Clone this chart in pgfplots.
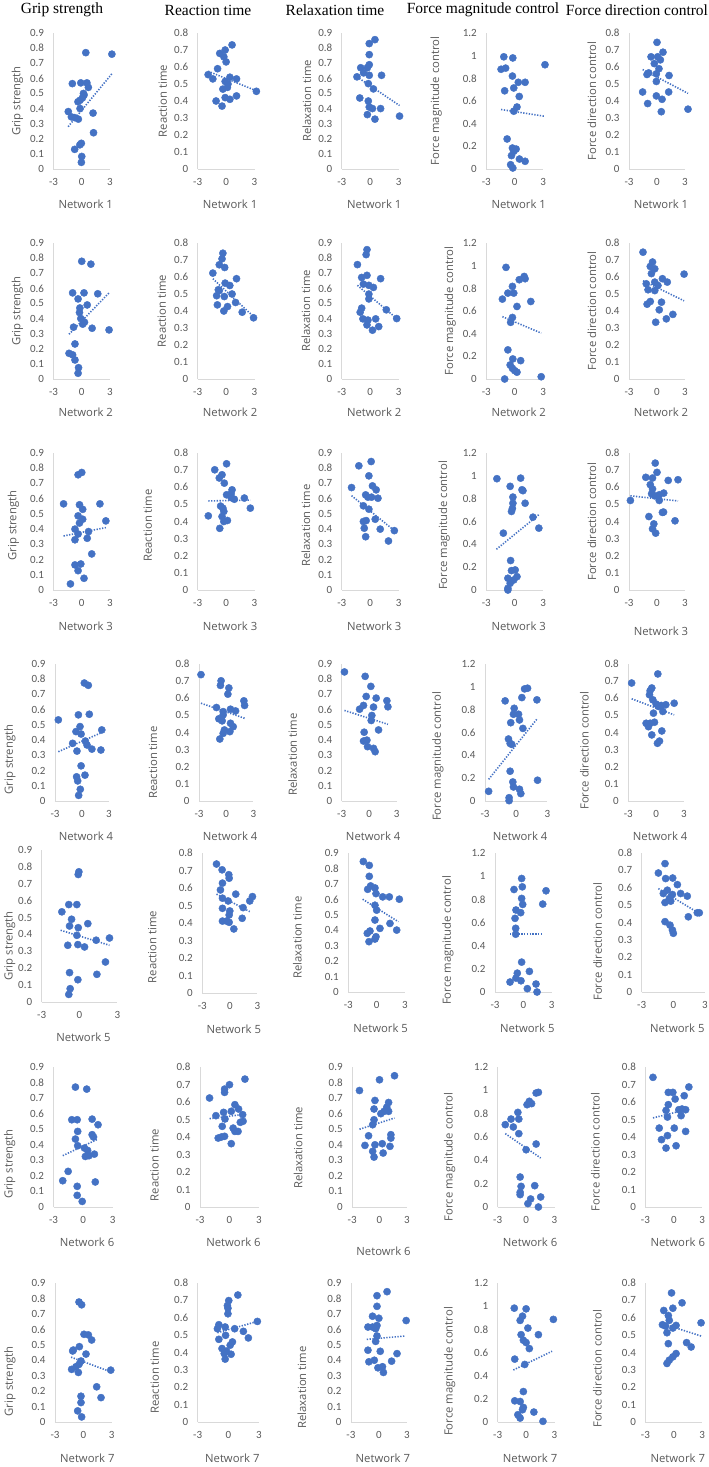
\documentclass[border=0pt]{standalone}
\usepackage{fontspec}
\setmainfont{Open Sans}
\newfontfamily\tickfont{Carlito}
\newfontfamily\titlefont{Liberation Serif}
\usepackage{pgfplots}
\pgfplotsset{compat=1.18}
\definecolor{dotblue}{HTML}{4472C4}
\definecolor{txtgray}{HTML}{595959}
\definecolor{axgray}{HTML}{D9D9D9}

\pgfplotsset{
  base/.style={
    scale only axis, anchor=south west, clip=false,
    xmin=-3, xmax=3, ymin=0, xtick={-3,0,3},
    axis x line*=bottom, axis y line*=left,
    axis line style={draw=axgray, line width=0.8pt, -},
    major tick length=0pt,
    /pgf/number format/assume math mode=true,
    tick label style={font=\tickfont\fontsize{11}{12}\selectfont, text=txtgray},
    yticklabel style={/pgf/number format/fixed, /pgf/number format/precision=1, xshift=-6pt},
    xticklabel style={yshift=-6pt},
    label style={font=\fontsize{11.3}{13}\selectfont, text=txtgray},
  },
  pnl/.style n args={4}{at={(#1pt,-#3pt)}, width=#2pt, height=#4pt},
  lab/.style n args={4}{
    ylabel style={at={([xshift=#1pt,yshift=#2pt]axis description cs:0,0.5)}, anchor=center},
    xlabel style={at={([xshift=#3pt,yshift=#4pt]axis description cs:0.5,0)}, anchor=center}},
  gs/.style={base, ymax=0.9, ytick={0,0.1,0.2,0.3,0.4,0.5,0.6,0.7,0.8,0.9}, ylabel={Grip strength}},
  rt/.style={base, ymax=0.8, ytick={0,0.1,0.2,0.3,0.4,0.5,0.6,0.7,0.8}, ylabel={Reaction time}},
  rx/.style={base, ymax=0.9, ytick={0,0.1,0.2,0.3,0.4,0.5,0.6,0.7,0.8,0.9}, ylabel={Relaxation time}},
  fm/.style={base, ymax=1.2, ytick={0,0.2,0.4,0.6,0.8,1,1.2}, ylabel={Force magnitude control}},
  fd/.style={base, ymax=0.8, ytick={0,0.1,0.2,0.3,0.4,0.5,0.6,0.7,0.8}, ylabel={Force direction control}},
  scat/.style={only marks, mark=*, mark size=3.6pt, color=dotblue, mark options={fill=dotblue, draw=none}},
  trend/.style={no marks, color=dotblue, line width=1.6pt, dash pattern=on 1.3pt off 1.5pt},
}

\begin{document}
\begin{tikzpicture}
\useasboundingbox (0,0) rectangle (709pt,-1467pt);

\begin{scope}[font=\titlefont\fontsize{15.5}{18}\selectfont]
\node at (62pt,-10pt) {Grip strength};
\node at (208pt,-10pt) {Reaction time};
\node at (335pt,-10pt) {Relaxation time};
\node at (483pt,-10pt) {Force magnitude control};
\node at (637pt,-10pt) {Force direction control};
\end{scope}

% ---------- Network 1 ----------
\begin{axis}[gs, pnl={53.5}{56.5}{169}{136}, lab={-36}{0}{4}{-35}, xlabel={Network 1}]
\addplot[scat] coordinates {(0.43,0.77) (3.2,0.76) (-1.0,0.565) (-0.1,0.57) (0.55,0.57) (0.7,0.54) (0.25,0.49) (0.18,0.50) (0.07,0.47) (-0.18,0.455) (-0.4,0.445) (-0.18,0.40) (-1.43,0.38) (-1.1,0.345) (-0.75,0.34) (-0.36,0.33) (1.2,0.37) (1.25,0.24) (-0.04,0.17) (-0.2,0.16) (-0.75,0.13) (0,0.083) (-0.04,0.044)};
\addplot[trend] coordinates {(-1.45,0.28) (3.2,0.63)};
\end{axis}
\begin{axis}[rt, pnl={197.7}{56.8}{169}{136}, lab={-35}{0}{4}{-35}, xlabel={Network 1}]
\addplot[scat] coordinates {(0.63,0.73) (-0.1,0.70) (-0.67,0.68) (-0.24,0.66) (0,0.63) (-0.9,0.59) (-1.9,0.555) (-1.4,0.53) (-0.1,0.515) (0.4,0.54) (-0.34,0.47) (0.14,0.48) (1.1,0.53) (3.2,0.457) (-1.06,0.40) (0.4,0.41) (-0.1,0.42) (1.1,0.43) (-0.43,0.37) (0.2,0.50)};
\addplot[trend] coordinates {(-1.9,0.575) (3.2,0.46)};
\end{axis}
\begin{axis}[rx, pnl={341.8}{56.8}{169}{136}, lab={-35}{0}{4}{-35}, xlabel={Network 1}]
\addplot[scat] coordinates {(0.5,0.856) (-0.1,0.83) (-0.1,0.757) (-0.1,0.69) (-0.3,0.67) (-1.0,0.67) (-0.7,0.636) (-1.4,0.61) (-0.1,0.62) (1.2,0.62) (-0.2,0.565) (0.34,0.53) (-1.1,0.47) (-0.2,0.45) (-0.1,0.41) (0.24,0.40) (1.1,0.40) (-0.3,0.36) (0.5,0.33) (3.1,0.35)};
\addplot[trend] coordinates {(-1.4,0.61) (3.1,0.42)};
\end{axis}
\begin{axis}[fm, pnl={486.3}{56.8}{169}{136}, lab={-50}{0}{4}{-35}, xlabel={Network 1}]
\addplot[scat] coordinates {(-1.15,0.99) (-0.2,0.98) (-1.44,0.88) (-0.96,0.89) (-0.24,0.82) (0.38,0.765) (1.1,0.765) (-0.1,0.715) (-1.06,0.69) (0.48,0.64) (0.24,0.547) (-0.1,0.51) (3.2,0.92) (-0.8,0.265) (-0.24,0.185) (0.15,0.176) (-0.1,0.156) (-0.34,0.118) (0.5,0.088) (1.1,0.068) (-0.43,0.038) (-0.2,0.009)};
\addplot[trend] coordinates {(-1.44,0.525) (3.2,0.465)};
\end{axis}
\begin{axis}[fd, pnl={629}{56}{169}{136}, lab={-37}{0}{4}{-35}, xlabel={Network 1}]
\addplot[scat] coordinates {(0,0.745) (-0.64,0.66) (0.07,0.66) (0.64,0.687) (0.36,0.642) (-0.29,0.62) (0.21,0.59) (-0.89,0.565) (-1.07,0.556) (-0.07,0.56) (1.29,0.55) (-0.07,0.515) (-1.54,0.453) (1.25,0.453) (-1.0,0.385) (-0.07,0.43) (0.54,0.41) (0.46,0.337) (3.32,0.352)};
\addplot[trend] coordinates {(-1.54,0.585) (3.32,0.445)};
\end{axis}

% ---------- Network 2 ----------
\begin{axis}[gs, pnl={53.5}{56.5}{379}{136}, lab={-36}{0}{4}{-33}, xlabel={Network 2}]
\addplot[scat] coordinates {(0,0.779) (0.97,0.76) (-0.97,0.57) (0.24,0.57) (1.7,0.564) (-0.39,0.53) (0.58,0.49) (-0.2,0.47) (-0.24,0.44) (-0.1,0.40) (0.29,0.376) (0.1,0.363) (-0.87,0.343) (1.1,0.336) (2.9,0.325) (-0.72,0.232) (-1.35,0.17) (-0.97,0.16) (-0.72,0.126) (-0.34,0.075) (-0.39,0.038)};
\addplot[trend] coordinates {(-1.35,0.296) (2.9,0.57)};
\end{axis}
\begin{axis}[rt, pnl={197.7}{56.8}{379}{136}, lab={-36}{0}{4}{-33}, xlabel={Network 2}]
\addplot[scat] coordinates {(-0.34,0.74) (-0.43,0.707) (-0.72,0.672) (-0.15,0.656) (-1.4,0.623) (1.1,0.59) (-0.1,0.564) (0.39,0.55) (-0.82,0.525) (-0.72,0.52) (0.63,0.50) (-0.19,0.485) (-1.0,0.49) (1.0,0.45) (-0.92,0.436) (0.15,0.426) (-0.24,0.40) (1.7,0.393) (2.9,0.36)};
\addplot[trend] coordinates {(-1.4,0.59) (2.9,0.367)};
\end{axis}
\begin{axis}[rx, pnl={341.8}{56.8}{379}{136}, lab={-36}{0}{4}{-33}, xlabel={Network 2}]
\addplot[scat] coordinates {(-0.34,0.856) (-0.43,0.823) (-1.35,0.757) (-0.34,0.686) (-0.9,0.672) (1.1,0.664) (-0.72,0.628) (-0.14,0.62) (0.34,0.606) (-0.14,0.562) (-0.14,0.53) (-0.9,0.469) (-1.06,0.442) (1.7,0.458) (-0.77,0.398) (0.58,0.398) (-0.24,0.39) (2.8,0.40) (-0.34,0.358) (0.9,0.347) (0.24,0.323)};
\addplot[trend] coordinates {(-1.35,0.62) (2.8,0.40)};
\end{axis}
\begin{axis}[fm, pnl={486.3}{56.8}{379}{136}, lab={-36}{0}{4}{-33}, xlabel={Network 2}]
\addplot[scat] coordinates {(-0.92,0.985) (0.48,0.876) (1.0,0.905) (1.1,0.885) (-0.24,0.817) (-0.72,0.758) (-0.1,0.758) (-1.3,0.705) (1.7,0.684) (0.24,0.64) (-0.24,0.543) (-0.43,0.50) (-0.72,0.257) (-0.2,0.177) (0.63,0.162) (-0.48,0.124) (-0.24,0.094) (0,0.074) (0.24,0.06) (-1.06,0.0) (2.8,0.02)};
\addplot[trend] coordinates {(-1.3,0.55) (2.8,0.405)};
\end{axis}
\begin{axis}[fd, pnl={629}{56}{379}{136}, lab={-37}{0}{4}{-33}, xlabel={Network 2}]
\addplot[scat] coordinates {(-1.5,0.746) (-0.48,0.688) (-0.72,0.662) (-0.24,0.648) (-0.6,0.62) (0.58,0.59) (1.1,0.57) (-1.15,0.56) (-0.24,0.57) (0.1,0.55) (-0.96,0.525) (-0.24,0.52) (2.9,0.617) (-0.72,0.456) (-1.06,0.44) (0.48,0.452) (0.24,0.407) (1.7,0.38) (1.0,0.354) (-0.14,0.334)};
\addplot[trend] coordinates {(-1.5,0.578) (2.9,0.46)};
\end{axis}

% ---------- Network 3 ----------
\begin{axis}[gs, pnl={53.5}{56.5}{590}{137}, lab={-40}{-4}{4}{-36}, xlabel={Network 3}]
\addplot[scat] coordinates {(0,0.772) (-0.39,0.757) (-1.93,0.566) (-0.24,0.56) (1.93,0.566) (0.1,0.53) (-0.39,0.487) (0.1,0.465) (-0.24,0.44) (2.56,0.454) (-0.72,0.40) (-0.39,0.368) (0.72,0.384) (0.58,0.34) (-0.72,0.33) (1.06,0.237) (-0.72,0.165) (-0.1,0.171) (-0.39,0.127) (0.24,0.077) (-1.2,0.04)};
\addplot[trend] coordinates {(-1.93,0.355) (2.56,0.41)};
\end{axis}
\begin{axis}[rt, pnl={197.7}{56.8}{590}{137}, lab={-50}{-4}{4}{-36}, xlabel={Network 3}]
\addplot[scat] coordinates {(0.05,0.737) (-1.2,0.702) (-0.43,0.673) (-0.72,0.654) (-0.19,0.624) (0.63,0.585) (0.53,0.562) (0.05,0.556) (0.87,0.53) (0.53,0.54) (1.93,0.537) (2.56,0.478) (-1.88,0.433) (-0.58,0.49) (-0.34,0.478) (-0.24,0.459) (-0.43,0.429) (0.14,0.406) (-0.24,0.40) (-0.67,0.36)};
\addplot[trend] coordinates {(-1.88,0.52) (2.56,0.525)};
\end{axis}
\begin{axis}[rx, pnl={341.8}{56.8}{590}{137}, lab={-36}{-4}{4}{-36}, xlabel={Network 3}]
\addplot[scat] coordinates {(0.1,0.844) (-1.2,0.816) (-0.14,0.75) (-1.97,0.673) (0.24,0.684) (0.63,0.658) (-0.48,0.625) (-0.24,0.61) (0.14,0.61) (0.82,0.603) (-0.72,0.553) (-0.14,0.531) (0.53,0.465) (-0.43,0.456) (-0.72,0.45) (-0.63,0.406) (1.06,0.40) (-0.48,0.35) (2.55,0.39) (1.93,0.322)};
\addplot[trend] coordinates {(-1.97,0.62) (2.55,0.39)};
\end{axis}
\begin{axis}[fm, pnl={486.3}{56.8}{590}{137}, lab={-42}{-4}{4}{-36}, xlabel={Network 3}]
\addplot[scat] coordinates {(-1.88,0.975) (0.63,0.98) (-0.48,0.908) (0.77,0.878) (0.87,0.87) (-0.19,0.814) (-0.19,0.76) (1.1,0.76) (-0.24,0.715) (-0.34,0.688) (1.93,0.638) (2.55,0.542) (-1.2,0.498) (-0.43,0.258) (0.05,0.176) (-0.34,0.17) (0.24,0.117) (-0.72,0.103) (-0.1,0.088) (-0.48,0.059) (-0.72,0.015) (-0.72,0.0)};
\addplot[trend] coordinates {(-1.93,0.357) (2.55,0.66)};
\end{axis}
\begin{axis}[fd, pnl={629}{56}{590}{137}, lab={-37}{0}{4}{-41}, xlabel={Network 3}]
\addplot[scat] coordinates {(-0.19,0.741) (0,0.687) (-1.2,0.658) (-0.48,0.654) (1.2,0.64) (-0.72,0.615) (-0.48,0.59) (-0.58,0.562) (-0.24,0.55) (0.24,0.556) (0.72,0.566) (0.24,0.523) (-2.85,0.523) (2.25,0.644) (-0.87,0.429) (0.58,0.453) (0.7,0.455) (1.93,0.404) (-0.34,0.386) (-0.48,0.357) (-0.14,0.332)};
\addplot[trend] coordinates {(-2.85,0.55) (2.25,0.52)};
\end{axis}

% ---------- Network 4 ----------
\begin{axis}[gs, pnl={55}{54}{801}{137}, lab={-45}{-27}{4}{-35}, xlabel={Network 4}]
\addplot[scat] coordinates {(0.26,0.775) (0.7,0.76) (-2.63,0.533) (-0.4,0.566) (0.81,0.57) (-0.22,0.489) (-0.67,0.456) (-0.1,0.44) (2.2,0.467) (-1.04,0.379) (0.37,0.394) (0.56,0.368) (1.1,0.341) (2.1,0.335) (-0.56,0.328) (-0.1,0.231) (-0.6,0.159) (-0.48,0.132) (0.33,0.17) (-0.19,0.077) (-0.37,0.037)};
\addplot[trend] coordinates {(-2.63,0.324) (2.2,0.45)};
\end{axis}
\begin{axis}[rt, pnl={199}{54.3}{801}{137}, lab={-46}{-30}{4}{-35}, xlabel={Network 4}]
\addplot[scat] coordinates {(-2.78,0.738) (-0.56,0.702) (-0.63,0.675) (0.3,0.66) (0.19,0.624) (1.96,0.585) (2.04,0.558) (-1.07,0.546) (-0.33,0.522) (0.48,0.536) (1.04,0.526) (-0.33,0.503) (-0.81,0.48) (-0.44,0.468) (0.48,0.454) (0.78,0.434) (-0.19,0.415) (0.41,0.405) (-0.33,0.395) (-0.7,0.362)};
\addplot[trend] coordinates {(-2.78,0.571) (2.04,0.483)};
\end{axis}
\begin{axis}[rx, pnl={341.7}{55}{801}{137}, lab={-49}{-22}{4}{-35}, xlabel={Network 4}]
\addplot[scat] coordinates {(-2.7,0.848) (-0.44,0.819) (0.18,0.753) (-0.33,0.687) (0.76,0.676) (1.93,0.659) (2.04,0.619) (0.47,0.617) (-0.62,0.628) (-1.05,0.603) (0.29,0.562) (0.22,0.529) (1.02,0.467) (-0.55,0.452) (-0.62,0.394) (-0.25,0.40) (-0.18,0.357) (0.47,0.346) (0.65,0.324)};
\addplot[trend] coordinates {(-2.7,0.595) (2.04,0.504)};
\end{axis}
\begin{axis}[fm, pnl={485}{62.3}{801}{137}, lab={-47}{-24}{4}{-35}, xlabel={Network 4}]
\addplot[scat] coordinates {(-2.65,0.085) (-1.06,0.877) (2.0,0.886) (0.81,0.982) (1.1,0.988) (0.55,0.906) (-0.19,0.812) (-0.26,0.76) (0.23,0.76) (0.32,0.71) (-0.52,0.686) (0.65,0.636) (-0.74,0.543) (-0.58,0.504) (-0.42,0.496) (2.06,0.182) (-0.58,0.261) (-0.32,0.167) (-0.26,0.123) (0.32,0.103) (0.45,0.065) (-0.68,0.029) (-0.68,0.003)};
\addplot[trend] coordinates {(-2.65,0.19) (2.06,0.725)};
\end{axis}
\begin{axis}[fd, pnl={628.3}{55.7}{801}{137}, lab={-44}{-18}{4}{-35}, xlabel={Network 4}]
\addplot[scat] coordinates {(0.18,0.742) (-2.64,0.689) (-0.47,0.66) (-0.65,0.644) (-0.72,0.62) (-0.36,0.591) (0,0.566) (0.54,0.558) (1.04,0.562) (1.94,0.571) (0.25,0.552) (0.72,0.523) (-0.29,0.513) (-1.08,0.454) (-0.65,0.454) (-0.18,0.46) (-0.83,0.434) (0.61,0.409) (-0.47,0.386) (0.36,0.35) (0.14,0.337)};
\addplot[trend] coordinates {(-2.64,0.597) (1.94,0.503)};
\end{axis}

% ---------- Network 5 ----------
\begin{axis}[gs, pnl={41.7}{75.6}{1002}{152}, lab={-32}{-20}{4}{-35}, xlabel={Network 5}]
\addplot[scat] coordinates {(-0.05,0.771) (-0.1,0.755) (-1.4,0.534) (-0.85,0.577) (-0.21,0.577) (-0.63,0.49) (-0.79,0.45) (-0.1,0.44) (0.66,0.464) (-0.21,0.395) (-0.93,0.336) (-0.13,0.34) (0.4,0.326) (1.32,0.366) (2.38,0.379) (2.06,0.237) (-0.79,0.174) (1.38,0.164) (-0.13,0.132) (-0.74,0.079) (-0.85,0.045)};
\addplot[trend] coordinates {(-1.5,0.425) (2.38,0.336)};
\end{axis}
\begin{axis}[rt, pnl={202.3}{55}{993}{140}, lab={-50}{-24}{4}{-36}, xlabel={Network 5}]
\addplot[scat] coordinates {(-1.45,0.737) (-0.84,0.704) (-0.11,0.676) (-0.07,0.656) (-0.8,0.628) (-1.02,0.589) (0.65,0.565) (2.47,0.551) (2.18,0.526) (-0.8,0.542) (-0.18,0.526) (-0.8,0.484) (0,0.469) (1.45,0.488) (-0.07,0.446) (1.35,0.427) (-0.8,0.411) (-0.07,0.404) (-0.36,0.411) (0.44,0.366)};
\addplot[trend] coordinates {(-1.45,0.565) (2.18,0.465)};
\end{axis}
\begin{axis}[rx, pnl={348.3}{56.7}{992}{139}, lab={-51}{-15}{4}{-36}, xlabel={Network 5}]
\addplot[scat] coordinates {(-1.41,0.845) (-0.78,0.82) (-0.78,0.749) (-0.95,0.665) (-0.64,0.687) (-0.18,0.674) (-0.07,0.637) (0.64,0.616) (1.34,0.616) (2.4,0.601) (-0.18,0.562) (0,0.53) (-0.18,0.466) (-0.71,0.395) (-0.99,0.38) (0.35,0.412) (1.41,0.444) (2.12,0.401) (-0.07,0.358) (-0.18,0.343) (-0.81,0.326)};
\addplot[trend] coordinates {(-1.48,0.601) (2.3,0.455)};
\end{axis}
\begin{axis}[fm, pnl={495}{56.7}{992}{139}, lab={-47}{-18}{4}{-36}, xlabel={Network 5}]
\addplot[scat] coordinates {(-0.18,0.98) (-0.11,0.908) (-0.99,0.885) (2.4,0.874) (-0.18,0.808) (-0.07,0.756) (2.05,0.759) (-0.78,0.708) (-0.28,0.685) (-0.88,0.636) (-0.81,0.55) (-0.81,0.499) (-0.18,0.258) (-0.64,0.163) (0.64,0.178) (-1.41,0.086) (-0.78,0.12) (-0.25,0.097) (1.34,0.069) (0.42,0.029) (1.45,0.0)};
\addplot[trend] coordinates {(-1.41,0.499) (2.1,0.499)};
\end{axis}
\begin{axis}[fd, pnl={641.7}{63.3}{992}{139}, lab={-44}{-19}{4}{-36}, xlabel={Network 5}]
\addplot[scat] coordinates {(-0.79,0.739) (-1.42,0.685) (-0.73,0.653) (-0.06,0.656) (0.38,0.618) (-0.57,0.586) (-0.95,0.567) (0.69,0.567) (1.32,0.552) (-0.09,0.561) (-0.38,0.538) (-0.25,0.523) (-0.79,0.515) (2.27,0.456) (2.46,0.456) (1.42,0.433) (-0.79,0.405) (-0.32,0.385) (-0.09,0.357) (0,0.338)};
\addplot[trend] coordinates {(-1.42,0.595) (2.46,0.452)};
\end{axis}

% ---------- Network 6 ----------
\begin{axis}[gs, pnl={53.6}{59}{1207}{140}, lab={-44}{-27}{4}{-35}, xlabel={Network 6}]
\addplot[scat] coordinates {(-0.78,0.771) (0.37,0.758) (-1.15,0.561) (-0.6,0.561) (0.92,0.565) (1.52,0.529) (-0.55,0.486) (0.92,0.465) (1.06,0.45) (-0.78,0.437) (-0.55,0.394) (0.14,0.379) (0.46,0.364) (0.23,0.325) (1.15,0.34) (0.6,0.33) (-1.52,0.229) (-2.07,0.169) (1.24,0.161) (-0.6,0.133) (-0.6,0.075) (-0.09,0.036)};
\addplot[trend] coordinates {(-2.07,0.33) (1.52,0.437)};
\end{axis}
\begin{axis}[rt, pnl={200}{59}{1207}{140}, lab={-45.5}{-28}{4}{-35}, xlabel={Network 6}]
\addplot[scat] coordinates {(1.57,0.731) (0,0.699) (-0.5,0.674) (-0.5,0.655) (-2.03,0.623) (0.55,0.585) (0.92,0.56) (-0.6,0.541) (0.18,0.547) (-1.38,0.522) (1.34,0.528) (-0.46,0.503) (1.1,0.484) (1.38,0.49) (-0.74,0.461) (0.37,0.451) (0.55,0.432) (0.87,0.432) (-1.15,0.394) (-0.5,0.404) (-0.83,0.40) (0.18,0.362)};
\addplot[trend] coordinates {(-2.03,0.505) (1.57,0.53)};
\end{axis}
\begin{axis}[rx, pnl={352.2}{54.6}{1207}{140}, lab={-54}{-11}{4}{-44}, xlabel={Netowrk 6}]
\addplot[scat] coordinates {(1.65,0.844) (0,0.818) (-2.2,0.749) (-0.5,0.685) (-0.6,0.63) (1.0,0.672) (0.8,0.642) (0.5,0.615) (1.0,0.615) (0.15,0.60) (-0.6,0.561) (-0.75,0.529) (-1.2,0.458) (1.25,0.465) (1.25,0.443) (-1.6,0.396) (-0.5,0.40) (0.3,0.407) (1.15,0.39) (-0.75,0.358) (0.4,0.347) (-0.6,0.321)};
\addplot[trend] coordinates {(-2.2,0.50) (1.65,0.572)};
\end{axis}
\begin{axis}[fm, pnl={497.7}{56.8}{1207}{140}, lab={-48}{-20}{4}{-35}, xlabel={Network 6}]
\addplot[scat] coordinates {(1.06,0.977) (1.3,0.983) (0.34,0.906) (0.1,0.877) (0.58,0.886) (-0.87,0.811) (-1.59,0.754) (-0.77,0.754) (-2.2,0.706) (-1.35,0.686) (-0.77,0.629) (1.06,0.54) (0,0.491) (-0.63,0.257) (-0.53,0.177) (-0.63,0.126) (-0.63,0.106) (0.91,0.183) (0.48,0.069) (0.19,0.029) (1.54,0.086) (1.3,0.0)};
\addplot[trend] coordinates {(-2.2,0.629) (1.54,0.42)};
\end{axis}
\begin{axis}[fd, pnl={645.4}{56.8}{1207}{140}, lab={-50}{-15}{4}{-35}, xlabel={Network 6}]
\addplot[scat] coordinates {(-2.2,0.741) (1.59,0.686) (-0.58,0.655) (-0.1,0.655) (1.1,0.636) (0.14,0.617) (-0.58,0.585) (-0.82,0.552) (0.53,0.556) (0.87,0.56) (1.25,0.556) (0.77,0.522) (-0.67,0.514) (-1.54,0.451) (0.05,0.451) (1.25,0.432) (-0.67,0.408) (-1.3,0.385) (0.24,0.35) (-0.82,0.337)};
\addplot[trend] coordinates {(-2.2,0.509) (1.59,0.56)};
\end{axis}

% ---------- Network 7 ----------
\begin{axis}[gs, pnl={55}{56.7}{1422}{139}, lab={-45}{-29}{4}{-36}, xlabel={Network 7}]
\addplot[scat] coordinates {(-0.46,0.777) (-0.18,0.759) (0.07,0.568) (0.53,0.564) (0.88,0.531) (-0.42,0.488) (-1.13,0.46) (-1.06,0.466) (0.28,0.44) (-0.25,0.395) (-0.46,0.373) (-0.78,0.358) (-1.24,0.341) (-0.53,0.321) (2.9,0.336) (1.41,0.228) (1.87,0.158) (-0.25,0.167) (-0.25,0.126) (-0.6,0.072) (-0.18,0.033)};
\addplot[trend] coordinates {(-1.3,0.42) (2.9,0.325)};
\end{axis}
\begin{axis}[rt, pnl={197.7}{61.3}{1422}{139}, lab={-43}{-25}{4}{-36}, xlabel={Network 7}]
\addplot[scat] coordinates {(0.93,0.731) (0.04,0.699) (-0.09,0.67) (-0.04,0.655) (-0.04,0.623) (-0.93,0.56) (-1.07,0.537) (-0.31,0.547) (0.62,0.537) (2.84,0.579) (1.47,0.522) (-0.93,0.476) (1.96,0.484) (-0.27,0.499) (0.4,0.461) (0.18,0.442) (-0.62,0.423) (-0.18,0.408) (0.27,0.39) (-0.4,0.394) (-0.31,0.362)};
\addplot[trend] coordinates {(-1.07,0.514) (2.84,0.579)};
\end{axis}
\begin{axis}[rx, pnl={350.9}{55.9}{1422}{139}, lab={-49}{-35}{4}{-36}, xlabel={Network 7}]
\addplot[scat] coordinates {(0.88,0.844) (-0.2,0.818) (-0.2,0.749) (-0.68,0.685) (0,0.672) (-1.17,0.615) (-0.68,0.615) (-0.2,0.625) (-0.34,0.604) (-0.2,0.557) (-0.34,0.522) (2.93,0.657) (-1.17,0.465) (0.15,0.458) (-1.07,0.39) (-0.49,0.40) (1.95,0.443) (1.37,0.394) (-0.1,0.351) (0.39,0.358) (0.49,0.321)};
\addplot[trend] coordinates {(-1.3,0.535) (2.85,0.557)};
\end{axis}
\begin{axis}[fm, pnl={497.7}{56.8}{1422}{139}, lab={-48}{-19}{4}{-36}, xlabel={Network 7}]
\addplot[scat] coordinates {(-1.25,0.983) (0,0.977) (-0.38,0.914) (-0.63,0.877) (2.88,0.886) (0.19,0.811) (-0.53,0.754) (1.3,0.754) (-0.29,0.706) (0,0.686) (0.34,0.634) (-1.2,0.543) (-0.14,0.497) (-0.29,0.263) (-1.2,0.183) (-0.63,0.177) (-0.29,0.126) (-0.38,0.106) (-0.87,0.063) (-0.63,0.034) (0.82,0.086) (1.78,0.006)};
\addplot[trend] coordinates {(-1.35,0.449) (2.74,0.611)};
\end{axis}
\begin{axis}[fd, pnl={645.4}{56.8}{1422}{139}, lab={-48}{-16}{4}{-36}, xlabel={Network 7}]
\addplot[scat] coordinates {(-0.24,0.743) (-0.1,0.655) (0.87,0.686) (-1.06,0.642) (-0.58,0.613) (-0.48,0.585) (-1.2,0.56) (-0.87,0.552) (0.24,0.556) (-0.1,0.541) (-0.72,0.514) (2.88,0.571) (1.35,0.457) (1.83,0.432) (-0.58,0.451) (0.24,0.394) (-0.1,0.375) (-0.48,0.356) (-0.72,0.337)};
\addplot[trend] coordinates {(-1.2,0.566) (2.88,0.495)};
\end{axis}

\end{tikzpicture}
\end{document}
